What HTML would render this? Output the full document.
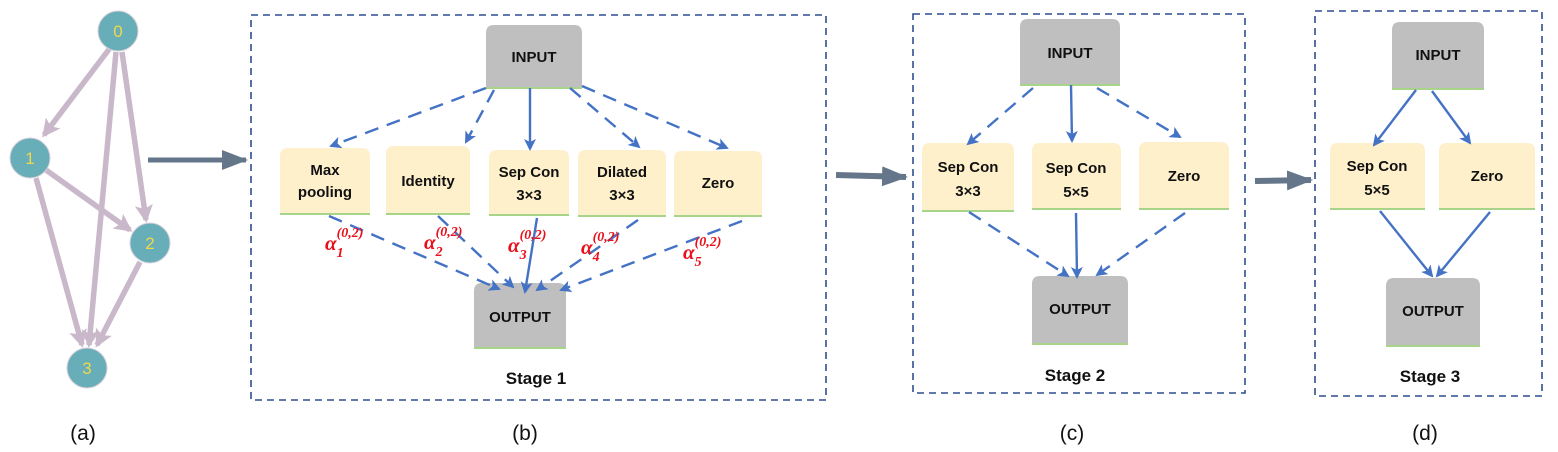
<!DOCTYPE html>
<html><head><meta charset="utf-8"><style>
body{margin:0;background:#fff}
svg{display:block}
.bt{font-family:"Liberation Sans",sans-serif;font-weight:bold;font-size:15px;fill:#111;text-anchor:middle}
.st{font-family:"Liberation Sans",sans-serif;font-weight:bold;font-size:17px;fill:#111;text-anchor:middle}
.lb{font-family:"Liberation Sans",sans-serif;font-size:21px;fill:#111;text-anchor:middle}
.al{font-family:"Liberation Serif",serif;font-weight:bold;font-style:italic;fill:#e8101a}
.nd{font-family:"Liberation Sans",sans-serif;font-size:17px;fill:#f0d84a;text-anchor:middle}
</style></head><body>
<svg width="1558" height="452" viewBox="0 0 1558 452" xmlns="http://www.w3.org/2000/svg">
<defs>
<marker id="ah" markerWidth="12" markerHeight="12" refX="10" refY="6" orient="auto" markerUnits="userSpaceOnUse"><path d="M0,0 L12,6 L0,12 L3,6 z" fill="#4472c4"/></marker>
<marker id="pa" markerWidth="18" markerHeight="18" refX="15" refY="9" orient="auto" markerUnits="userSpaceOnUse"><path d="M0,0 L18,9 L0,18 L4,9 z" fill="#c9b8c9"/></marker>
<marker id="ga" markerWidth="26" markerHeight="20" refX="24" refY="10" orient="auto" markerUnits="userSpaceOnUse"><path d="M0,0 L26,10 L0,20 z" fill="#65758a"/></marker>
</defs>

<g stroke="#c9b8c9" stroke-width="5.5" fill="none">
<line x1="110" y1="48" x2="44" y2="135" marker-end="url(#pa)"/>
<line x1="122" y1="52" x2="146" y2="220" marker-end="url(#pa)"/>
<line x1="116" y1="52" x2="89" y2="345" marker-end="url(#pa)"/>
<line x1="46" y1="170" x2="130" y2="230" marker-end="url(#pa)"/>
<line x1="36" y1="178" x2="82" y2="345" marker-end="url(#pa)"/>
<line x1="140" y1="262" x2="97" y2="345" marker-end="url(#pa)"/>
</g>
<g fill="#68aeb8" stroke="#d8d0dc" stroke-width="1">
<circle cx="118" cy="31" r="20"/><circle cx="30" cy="158" r="20"/><circle cx="150" cy="243" r="20"/><circle cx="87" cy="368" r="20"/>
</g>
<text class="nd" x="118" y="37">0</text><text class="nd" x="30" y="164">1</text><text class="nd" x="150" y="249">2</text><text class="nd" x="87" y="374">3</text>

<line x1="148" y1="160" x2="246" y2="160" stroke="#65758a" stroke-width="5" marker-end="url(#ga)"/>
<line x1="836" y1="175" x2="906" y2="177" stroke="#65758a" stroke-width="6" marker-end="url(#ga)"/>
<line x1="1255" y1="181" x2="1311" y2="180" stroke="#65758a" stroke-width="6" marker-end="url(#ga)"/>

<g fill="none" stroke="#2f4f8f" stroke-width="1.6" stroke-dasharray="7,5">
<rect x="251" y="15" width="575" height="385"/>
<rect x="913" y="14" width="332" height="379"/>
<rect x="1315" y="11" width="227" height="385"/>
</g>

<g fill="#bfbfbf">
<path d="M486,33 q0,-8 8,-8 h80 q8,0 8,8 v54 h-96z"/>
<path d="M474,291 q0,-8 8,-8 h76 q8,0 8,8 v56 h-92z"/>
<path d="M1020,27 q0,-8 8,-8 h84 q8,0 8,8 v57 h-100z"/>
<path d="M1032,284 q0,-8 8,-8 h80 q8,0 8,8 v59 h-96z"/>
<path d="M1392,30 q0,-8 8,-8 h76 q8,0 8,8 v58 h-92z"/>
<path d="M1386,286 q0,-8 8,-8 h78 q8,0 8,8 v59 h-94z"/>
</g>
<g fill="#fff0cc">
<path d="M280,156 q0,-8 8,-8 h74 q8,0 8,8 v57 h-90z"/>
<path d="M386,154 q0,-8 8,-8 h68 q8,0 8,8 v59 h-84z"/>
<path d="M489,158 q0,-8 8,-8 h64 q8,0 8,8 v56 h-80z"/>
<path d="M578,158 q0,-8 8,-8 h72 q8,0 8,8 v57 h-88z"/>
<path d="M674,159 q0,-8 8,-8 h72 q8,0 8,8 v56 h-88z"/>
<path d="M922,151 q0,-8 8,-8 h76 q8,0 8,8 v59 h-92z"/>
<path d="M1032,151 q0,-8 8,-8 h73 q8,0 8,8 v57 h-89z"/>
<path d="M1139,150 q0,-8 8,-8 h74 q8,0 8,8 v58 h-90z"/>
<path d="M1330,151 q0,-8 8,-8 h79 q8,0 8,8 v57 h-95z"/>
<path d="M1439,151 q0,-8 8,-8 h80 q8,0 8,8 v57 h-96z"/>
</g>
<g stroke="#a8d48a" stroke-width="2">
<line x1="486" y1="88" x2="582" y2="88"/><line x1="474" y1="348" x2="566" y2="348"/>
<line x1="1020" y1="85" x2="1120" y2="85"/><line x1="1032" y1="344" x2="1128" y2="344"/>
<line x1="1392" y1="89" x2="1484" y2="89"/><line x1="1386" y1="346" x2="1480" y2="346"/>
<line x1="280" y1="214" x2="370" y2="214"/><line x1="386" y1="214" x2="470" y2="214"/>
<line x1="489" y1="215" x2="569" y2="215"/><line x1="578" y1="216" x2="666" y2="216"/>
<line x1="674" y1="216" x2="762" y2="216"/><line x1="922" y1="211" x2="1014" y2="211"/>
<line x1="1032" y1="209" x2="1121" y2="209"/><line x1="1139" y1="209" x2="1229" y2="209"/>
<line x1="1330" y1="209" x2="1425" y2="209"/><line x1="1439" y1="209" x2="1535" y2="209"/>
</g>

<g stroke="#4472c4" stroke-width="2.4" fill="none" marker-end="url(#ah)">
<g stroke-dasharray="14,9">
<line x1="486" y1="88" x2="331" y2="146"/>
<line x1="494" y1="90" x2="466" y2="142"/>
<line x1="570" y1="88" x2="639" y2="147"/>
<line x1="582" y1="86" x2="727" y2="148"/>
<line x1="329" y1="216" x2="499" y2="289"/>
<line x1="438" y1="216" x2="513" y2="287"/>
<line x1="638" y1="220" x2="537" y2="290"/>
<line x1="742" y1="221" x2="561" y2="290"/>
<line x1="1033" y1="88" x2="968" y2="144"/>
<line x1="1097" y1="88" x2="1180" y2="137"/>
<line x1="969" y1="212" x2="1068" y2="276"/>
<line x1="1185" y1="213" x2="1097" y2="275"/>
</g>
<line x1="530" y1="88" x2="530" y2="149"/>
<line x1="537" y1="218" x2="525" y2="292"/>
<line x1="1071" y1="85" x2="1072" y2="141"/>
<line x1="1076" y1="213" x2="1077" y2="277"/>
<line x1="1416" y1="90" x2="1374" y2="145"/>
<line x1="1432" y1="91" x2="1470" y2="143"/>
<line x1="1380" y1="211" x2="1432" y2="276"/>
<line x1="1490" y1="212" x2="1437" y2="276"/>
</g>

<text class="bt" x="534" y="62">INPUT</text>
<text class="bt" x="520" y="322">OUTPUT</text>
<text class="bt" x="325" y="175">Max</text><text class="bt" x="325" y="197">pooling</text>
<text class="bt" x="428" y="186">Identity</text>
<text class="bt" x="529" y="177">Sep Con</text><text class="bt" x="529" y="200">3×3</text>
<text class="bt" x="622" y="177">Dilated</text><text class="bt" x="622" y="200">3×3</text>
<text class="bt" x="718" y="188">Zero</text>
<text class="st" x="536" y="384">Stage  1</text>

<text class="bt" x="1070" y="58">INPUT</text>
<text class="bt" x="1080" y="314">OUTPUT</text>
<text class="bt" x="968" y="172">Sep Con</text><text class="bt" x="968" y="196">3×3</text>
<text class="bt" x="1076" y="173">Sep Con</text><text class="bt" x="1076" y="197">5×5</text>
<text class="bt" x="1184" y="181">Zero</text>
<text class="st" x="1075" y="381">Stage  2</text>

<text class="bt" x="1438" y="60">INPUT</text>
<text class="bt" x="1433" y="316">OUTPUT</text>
<text class="bt" x="1377" y="171">Sep Con</text><text class="bt" x="1377" y="195">5×5</text>
<text class="bt" x="1487" y="181">Zero</text>
<text class="st" x="1430" y="382">Stage  3</text>

<g class="al">
<text x="325" y="250" font-size="21">α<tspan font-size="14" dy="7">1</tspan><tspan font-size="14" dx="-7" dy="-20">(0,2)</tspan></text>
<text x="424" y="249" font-size="21">α<tspan font-size="14" dy="7">2</tspan><tspan font-size="14" dx="-7" dy="-20">(0,2)</tspan></text>
<text x="508" y="252" font-size="21">α<tspan font-size="14" dy="7">3</tspan><tspan font-size="14" dx="-7" dy="-20">(0,2)</tspan></text>
<text x="581" y="254" font-size="21">α<tspan font-size="14" dy="7">4</tspan><tspan font-size="14" dx="-7" dy="-20">(0,2)</tspan></text>
<text x="683" y="259" font-size="21">α<tspan font-size="14" dy="7">5</tspan><tspan font-size="14" dx="-7" dy="-20">(0,2)</tspan></text>
</g>

<text class="lb" x="83" y="440">(a)</text>
<text class="lb" x="525" y="440">(b)</text>
<text class="lb" x="1072" y="440">(c)</text>
<text class="lb" x="1425" y="440">(d)</text>
</svg>
</body></html>
